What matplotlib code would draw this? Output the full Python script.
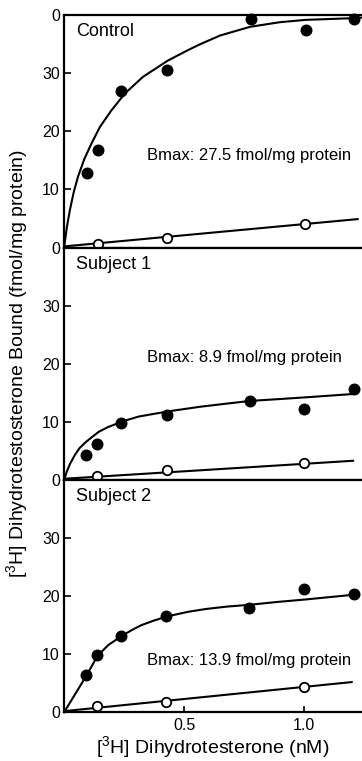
import matplotlib
matplotlib.use("Agg")
import matplotlib.pyplot as plt

plt.rcParams['font.family'] = ['Liberation Sans', 'DejaVu Sans']
plt.rcParams['mathtext.default'] = 'regular'

# ---- Control ----
control_x = [0.096, 0.142, 0.239, 0.430, 0.778, 1.007, 1.210]
control_total = [12.9, 16.8, 26.9, 30.6, 39.3, 37.4, 39.3]
control_ns_x = [0.142, 0.429, 1.004]
control_ns = [0.6, 1.6, 4.1]
control_fit_x = [0.0, 0.012, 0.024, 0.040, 0.058, 0.085, 0.114, 0.150, 0.197, 0.253,
                 0.329, 0.433, 0.517, 0.567, 0.650, 0.775, 0.900, 1.007, 1.21, 1.242]
control_fit_y = [0.0, 3.6, 6.4, 9.5, 12.2, 15.3, 17.9, 20.8, 23.6, 26.5,
                 29.4, 32.2, 34.0, 35.0, 36.5, 38.0, 38.8, 39.2, 39.5, 39.6]
control_ns_line_x = [0.0, 1.224]
control_ns_line_y = [0.2, 4.9]

# ---- Subject 1 ----
s1_x = [0.093, 0.139, 0.239, 0.429, 0.774, 1.001, 1.208]
s1_total = [4.3, 6.2, 9.8, 11.1, 13.6, 12.2, 15.7]
s1_ns_x = [0.139, 0.428, 1.001]
s1_ns = [0.7, 1.7, 2.9]
s1_fit_x = [0.0, 0.012, 0.024, 0.045, 0.065, 0.090, 0.114, 0.145, 0.183, 0.253, 0.310,
            0.378, 0.450, 0.517, 0.567, 0.670, 0.775, 0.890, 1.0, 1.208]
s1_fit_y = [0.0, 1.5, 2.7, 4.3, 5.5, 6.5, 7.3, 8.3, 9.1, 10.2, 10.9,
            11.4, 11.9, 12.3, 12.6, 13.1, 13.6, 13.9, 14.2, 14.8]
s1_ns_line_x = [0.0, 1.205]
s1_ns_line_y = [0.2, 3.3]

# ---- Subject 2 ----
s2_x = [0.093, 0.139, 0.239, 0.426, 0.772, 1.001, 1.208]
s2_total = [6.4, 9.8, 13.1, 16.5, 18.0, 21.2, 20.3]
s2_ns_x = [0.139, 0.426, 1.001]
s2_ns = [1.0, 1.7, 4.4]
s2_fit_x = [0.0, 0.093, 0.139, 0.185, 0.239, 0.280, 0.322, 0.375, 0.429, 0.517,
            0.594, 0.680, 0.772, 0.890, 1.001, 1.199]
s2_fit_y = [0.0, 6.3, 9.7, 11.6, 13.1, 14.1, 15.0, 15.8, 16.5, 17.3,
            17.8, 18.2, 18.5, 19.0, 19.4, 20.2]
s2_ns_line_x = [0.0, 1.199]
s2_ns_line_y = [0.2, 5.2]

panel_names = ["Control", "Subject 1", "Subject 2"]
bmax_labels = ["Bmax: 27.5 fmol/mg protein",
               "Bmax: 8.9 fmol/mg protein",
               "Bmax: 13.9 fmol/mg protein"]
bmax_pos = [(0.346, 15.9), (0.346, 21.1), (0.346, 9.0)]
x_ticks = [0.5, 1.0]
x_tick_labels = ["0.5", "1.0"]
y_ticks = [0, 10, 20, 30, 40]

panels = [
    (control_x, control_total, control_ns_x, control_ns, control_fit_x, control_fit_y,
     control_ns_line_x, control_ns_line_y),
    (s1_x, s1_total, s1_ns_x, s1_ns, s1_fit_x, s1_fit_y, s1_ns_line_x, s1_ns_line_y),
    (s2_x, s2_total, s2_ns_x, s2_ns, s2_fit_x, s2_fit_y, s2_ns_line_x, s2_ns_line_y),
]

fig = plt.figure(figsize=(3.62, 7.61), dpi=100)
fig.subplots_adjust(left=0.177, right=1.0, top=0.980, bottom=0.064, hspace=0)
axes = fig.subplots(3, 1, sharex=True)

for i, (ax, data) in enumerate(zip(axes, panels)):
    tx, ty, nx, ny, fx, fy, lx, ly = data
    ax.plot(fx, fy, color='black', lw=1.5, zorder=2, clip_on=False)
    ax.plot(lx, ly, color='black', lw=1.5, zorder=2, clip_on=False)
    ax.plot(tx, ty, 'o', color='black', ms=7.6, zorder=3, clip_on=False)
    ax.plot(nx, ny, 'o', mfc='white', mec='black', mew=1.3, ms=6.8, zorder=3, clip_on=False)

    ax.set_xlim(0, 1.242)
    ax.set_ylim(0, 40)
    ax.set_yticks(y_ticks)
    if i == 0:
        ax.set_yticklabels(["0", "10", "20", "30", "0"])
    else:
        ax.set_yticklabels(["0", "10", "20", "30", ""])
    ax.tick_params(axis='y', direction='in', length=5, width=1.2, labelsize=11.5, pad=3)
    ax.tick_params(axis='x', direction='in', length=4, width=1.2, labelsize=11.5, pad=4)
    for side in ('left', 'bottom', 'top'):
        ax.spines[side].set_linewidth(1.6)
    ax.spines['right'].set_visible(False)

    ax.text(0.041, 0.928, panel_names[i], transform=ax.transAxes,
            fontsize=13, ha='left', va='center')
    bx, by = bmax_pos[i]
    ax.text(bx, by, bmax_labels[i], fontsize=12, ha='left', va='center')

    if i < 2:
        ax.tick_params(axis='x', length=0, labelbottom=False)

axes[-1].set_xticks(x_ticks)
axes[-1].set_xticklabels(x_tick_labels)
axes[-1].set_xlabel("[$^3$H] Dihydrotesterone (nM)", fontsize=14, labelpad=1)

fig.text(0.048, (0.980 + 0.064) / 2,
         "[$^3$H] Dihydrotestosterone Bound (fmol/mg protein)",
         rotation=90, ha='center', va='center', fontsize=14)

fig.savefig("out.png", dpi=100)
